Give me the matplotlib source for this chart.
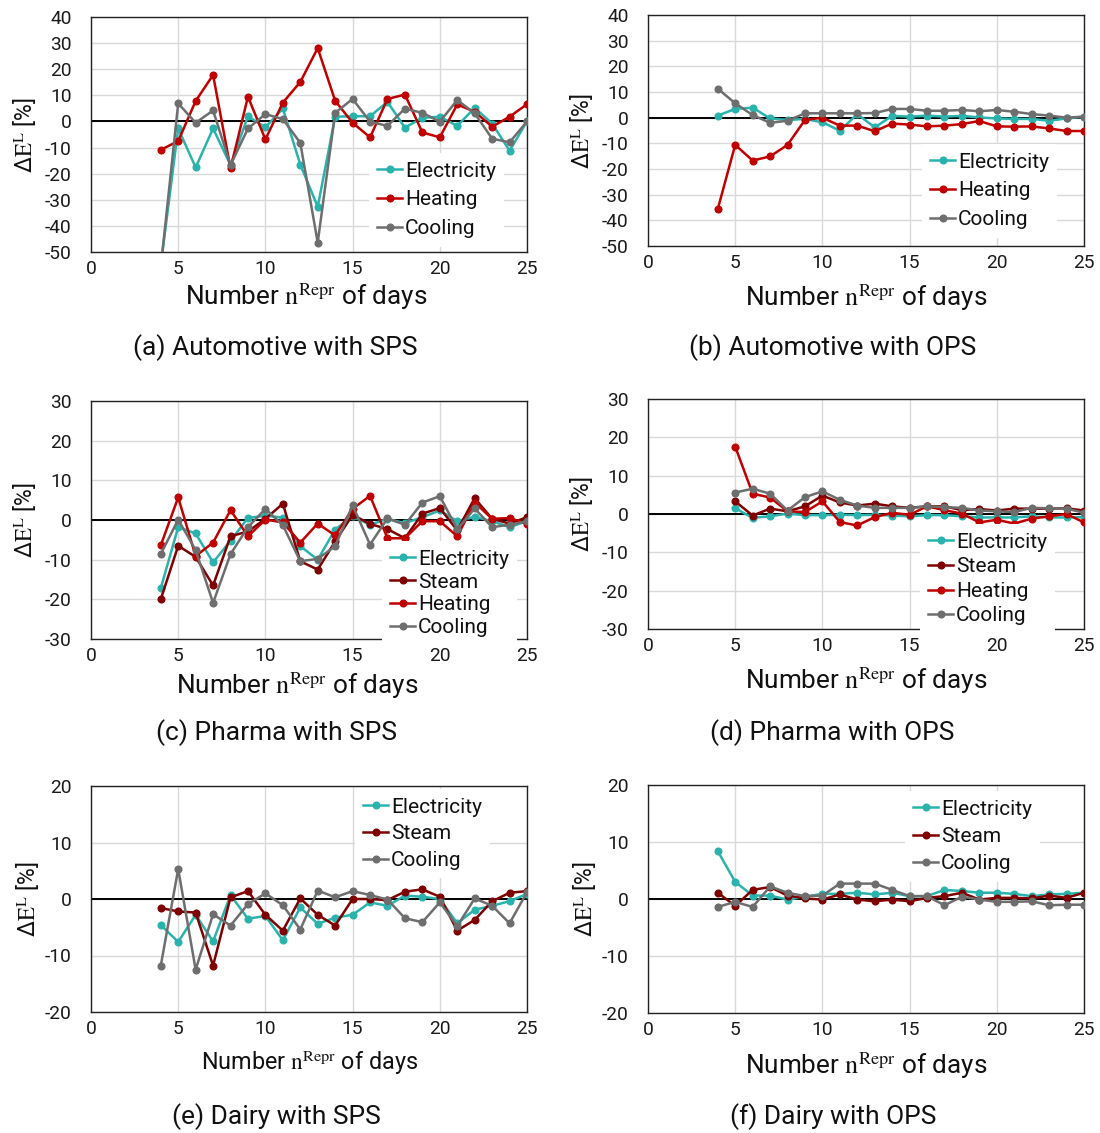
import matplotlib
matplotlib.use("Agg")
import matplotlib.pyplot as plt
import numpy as np

plt.rcParams['font.family'] = ['Roboto', 'DejaVu Sans']
plt.rcParams['mathtext.fontset'] = 'stix'
plt.rcParams['axes.unicode_minus'] = False

W, H = 1100, 1133

# ---------------- data ----------------
days = list(range(4, 26))

# (a) Automotive with SPS
a_elec = [-55, -2.7, -17.6, -2.7, -16.7, 2.0, -2.3, 5.0, -16.5, -32.7, 1.8, 2.0, 2.0, 7.5, -2.4, 1.4, 1.8, -1.7, 5.2, -0.8, -11.2, 0.0]
a_heat = [-10.9, -7.5, 7.8, 17.8, -18.0, 9.5, -6.9, 7.2, 15.1, 28.1, 7.9, -0.5, -6.1, 8.6, 10.3, -4.2, -6.1, 6.5, 3.7, -2.0, 1.8, 6.6]
a_cool = [-56, 6.9, -0.5, 4.2, -16.7, -2.7, 2.8, 0.9, -8.2, -46.4, 3.3, 8.6, -0.1, -1.7, 4.9, 3.3, -0.1, 8.2, 3.1, -6.6, -8.0, 0.0]

# (b) Automotive with OPS
b_elec = [0.8, 3.4, 3.9, -0.3, -0.9, -0.5, -1.8, -5.1, 1.4, -3.8, 0.7, 0.4, 0.8, 0.4, 0.7, 0.1, -0.3, -0.5, -0.5, -1.2, -0.3, 0.4]
b_heat = [-35.6, -10.6, -16.7, -15.1, -10.6, -0.9, 0.0, -3.1, -3.1, -5.3, -2.3, -2.7, -3.4, -3.1, -2.5, -1.3, -3.4, -3.5, -3.4, -4.2, -5.2, -5.2]
b_cool = [11.3, 5.6, 1.0, -2.0, -1.2, 1.7, 1.7, 1.7, 1.7, 1.8, 3.4, 3.4, 2.7, 2.7, 3.0, 2.5, 3.0, 2.3, 1.4, 0.8, 0.0, 0.4]

# (c) Pharma with SPS
c_elec = [-17.2, -1.8, -3.4, -10.7, -5.2, 0.5, 1.1, 0.6, -6.6, -10.0, -2.4, 0.9, -1.2, 0.3, -0.8, 0.7, 2.4, -0.3, 0.8, -0.3, -1.8, -0.3]
c_steam = [-20.0, -6.5, -9.3, -16.5, -4.1, -2.9, 0.3, 4.1, -10.4, -12.5, -5.4, 1.3, -1.0, -2.3, -4.6, 1.6, 3.0, -2.6, 5.5, 0.3, -0.9, 0.7]
c_heat = [-6.4, 5.7, -9.1, -5.7, 2.5, -4.1, 0.1, -0.6, -5.7, -0.9, -3.9, 2.8, 6.1, -4.6, -4.6, -0.3, -0.3, -4.1, 4.4, 0.3, 0.5, -0.9]
c_cool = [-8.6, 0.1, -7.6, -20.9, -8.6, -1.8, 2.8, -1.3, -10.4, -9.8, -6.6, 3.7, -6.2, 0.4, -1.2, 4.4, 6.0, -2.3, 2.9, -1.8, -1.2, -0.3]

# (d) Pharma with OPS (starts at 5 days)
days_d = list(range(5, 26))
d_elec = [1.5, -1.0, -0.6, 0.1, -0.3, -0.3, -0.2, -0.3, -0.2, -0.4, -0.6, -0.3, -0.3, -0.6, -0.9, -0.9, -0.9, -0.6, -0.9, -0.9, -0.8]
d_steam = [3.3, -0.4, 1.4, 0.7, 2.0, 4.8, 3.0, 2.2, 2.7, 2.0, 1.6, 2.0, 2.0, 1.0, 1.3, 0.9, 1.4, 1.4, 1.4, 1.5, 0.9]
d_heat = [17.6, 5.3, 4.3, 0.7, 0.5, 3.3, -2.1, -3.0, -0.8, 0.3, -0.2, 2.0, 1.0, 0.1, -2.2, -1.5, -2.5, -1.2, -0.6, 0.0, -2.2]
d_cool = [5.6, 6.6, 5.3, 0.9, 4.4, 5.9, 3.7, 2.2, 1.6, 1.6, 1.6, 2.0, 1.8, 1.6, 0.9, 0.7, 0.5, 1.6, 1.5, 1.4, 0.3]

# (e) Dairy with SPS
e_elec = [-4.6, -7.6, -2.8, -7.5, 0.7, -3.5, -3.0, -7.3, -1.5, -4.4, -3.3, -2.8, -0.6, -1.2, 0.6, 0.4, 0.0, -4.3, -1.9, -1.2, -0.4, 0.9]
e_steam = [-1.6, -2.2, -2.4, -11.8, 0.3, 1.4, -2.8, -5.6, 0.1, -2.8, -4.7, 0.0, 0.0, -0.2, 1.3, 1.7, 0.4, -5.6, -3.7, -0.4, 1.1, 1.4]
e_cool = [-11.8, 5.3, -12.5, -2.7, -4.7, -0.9, 1.0, -1.1, -5.4, 1.5, 0.3, 1.4, 0.7, -0.1, -3.4, -4.1, -0.6, -4.8, 0.1, -1.2, -4.3, 1.2]

# (f) Dairy with OPS
f_elec = [8.4, 3.0, 0.6, 0.6, -0.1, 0.4, 0.9, 0.9, 1.1, 0.8, 1.1, 0.5, 0.5, 1.6, 1.4, 1.1, 1.1, 0.9, 0.5, 0.8, 0.9, 1.1]
f_steam = [1.1, -1.2, 1.6, 2.1, 0.6, 0.1, -0.1, 0.8, -0.1, -0.4, -0.1, -0.4, 0.2, 0.5, 1.1, -0.1, 0.2, 0.2, 0.1, 0.6, 0.2, 1.1]
f_cool = [-1.4, -0.5, -1.4, 2.2, 1.1, 0.5, 0.6, 2.7, 2.7, 2.7, 1.6, 0.5, 0.5, -1.1, 0.4, -0.1, -0.5, -0.5, -0.4, -1.1, -1.0, -1.0]

captions = ["(a) Automotive with SPS", "(b) Automotive with OPS",
            "(c) Pharma with SPS", "(d) Pharma with OPS",
            "(e) Dairy with SPS", "(f) Dairy with OPS"]

COL = {"Electricity": "#2AB3AD", "Steam": "#7F0000", "Heating": "#C00000", "Cooling": "#6E6E6E"}

# ---------------- layout (pixels) ----------------
# left, top, right, bottom
boxes = [(91, 17, 527, 252), (648, 15, 1084, 246),
         (91, 401, 527, 639), (648, 399, 1084, 629),
         (91, 786, 527, 1012), (648, 785, 1084, 1013)]
ylims = [(-50, 40), (-50, 40), (-30, 30), (-30, 30), (-20, 20), (-20, 20)]

panels = [
    [(days, a_elec, "Electricity"), (days, a_heat, "Heating"), (days, a_cool, "Cooling")],
    [(days, b_elec, "Electricity"), (days, b_heat, "Heating"), (days, b_cool, "Cooling")],
    [(days, c_elec, "Electricity"), (days, c_steam, "Steam"), (days, c_heat, "Heating"), (days, c_cool, "Cooling")],
    [(days_d, d_elec, "Electricity"), (days_d, d_steam, "Steam"), (days_d, d_heat, "Heating"), (days_d, d_cool, "Cooling")],
    [(days, e_elec, "Electricity"), (days, e_steam, "Steam"), (days, e_cool, "Cooling")],
    [(days, f_elec, "Electricity"), (days, f_steam, "Steam"), (days, f_cool, "Cooling")],
]

# legend anchors: (x of handle start px, y of first entry centre px, labelspacing)
leg_pos = [(377, 172, 0.47), (930, 163, 0.47), (390, 560, 0.19),
           (928, 543, 0.27), (363, 808, 0.37), (913, 810, 0.40)]
xlab_pos = [(306, 297), (866, 298), (297, 686), (866, 681), (310, 1063), (866, 1066)]
xlab_size = [18.8, 18.8, 18.8, 18.8, 16.8, 18.8]
cap_pos = [(275.5, 348), (832.5, 348), (276, 733), (832.5, 733), (276.5, 1117), (833.5, 1117)]
ylab_x = [25, 582, 25, 582, 28, 585]

fig = plt.figure(figsize=(W / 100, H / 100), dpi=100)

for i in range(6):
    l, t, r, b = boxes[i]
    ax = fig.add_axes([l / W, 1 - b / H, (r - l) / W, (b - t) / H])
    for xs, ys, name in panels[i]:
        ax.plot(xs, ys, color=COL[name], lw=1.8, marker='o', ms=4.8, label=name, zorder=3)
    ax.axhline(0, color='black', lw=1.4, zorder=2)
    ax.set_xlim(0, 25)
    ax.set_ylim(*ylims[i])
    ax.set_xticks(range(0, 26, 5))
    ax.set_yticks(np.arange(ylims[i][0], ylims[i][1] + 1, 10))
    ax.grid(True, color='#D9D9D9', lw=1.0, zorder=0)
    ax.set_axisbelow(True)
    ax.tick_params(axis='both', length=0, labelsize=13.8, colors='#1a1a1a')
    ax.tick_params(axis='y', pad=14)
    ax.tick_params(axis='x', pad=6)
    for sp in ax.spines.values():
        sp.set_color('#222222')
        sp.set_linewidth(1.0)

    hx, hy, ls = leg_pos[i]
    fs = 15
    fspx = fs * 100 / 72
    bp = 0.4
    ax_x = (hx - bp * fspx) / W
    ax_y = 1 - (hy - 0.5 * fspx - bp * fspx) / H
    leg = ax.legend(loc='upper left', bbox_to_anchor=(ax_x, ax_y), bbox_transform=fig.transFigure,
                    fontsize=fs, frameon=True, fancybox=False, borderpad=bp, borderaxespad=0,
                    handlelength=1.2, handletextpad=0.15, labelspacing=ls, numpoints=1)
    leg.get_frame().set_facecolor('white')
    leg.get_frame().set_edgecolor('none')
    leg.get_frame().set_alpha(1)
    for txt in leg.get_texts():
        txt.set_color('#111111')

    fig.text(xlab_pos[i][0] / W, 1 - xlab_pos[i][1] / H, r'Number $\mathrm{n}^{\mathrm{Repr}}$ of days',
             ha='center', va='center', fontsize=xlab_size[i], color='#111111')
    fig.text(cap_pos[i][0] / W, 1 - cap_pos[i][1] / H, captions[i],
             ha='center', va='center', fontsize=19, color='#111111')
    fig.text(ylab_x[i] / W, 1 - ((t + b) / 2) / H, r'Δ$\mathrm{E}^{\mathrm{L}}$ [%]',
             ha='center', va='center', rotation=90, fontsize=16.5, color='#111111')

fig.savefig('out.png', dpi=100)
